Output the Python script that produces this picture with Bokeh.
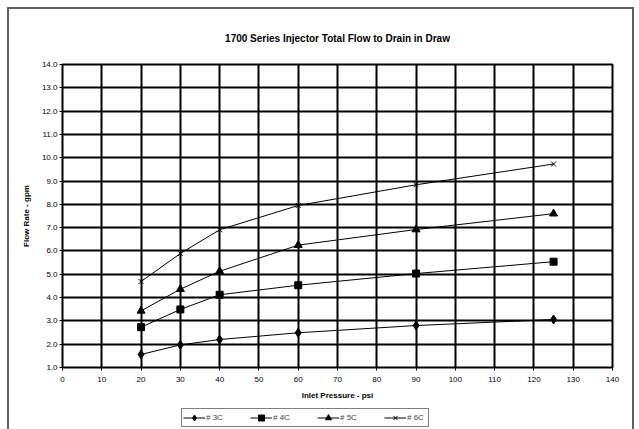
from bokeh.plotting import figure
from bokeh.layouts import column
from bokeh.models import Range1d, Legend, LegendItem, FixedTicker, Title, NumeralTickFormatter
from bokeh.embed import file_html
from bokeh.resources import INLINE

pressure = [20, 30, 40, 60, 90, 125]
s3c = [1.56, 1.97, 2.20, 2.49, 2.80, 3.06]
s4c = [2.73, 3.49, 4.12, 4.53, 5.03, 5.54]
s5c = [3.43, 4.36, 5.13, 6.25, 6.92, 7.60]
s6c = [4.69, 5.89, 6.91, 7.95, 8.84, 9.73]
labels = ["# 3C", "# 4C", "# 5C", "# 6C"]
x_ticks = list(range(0, 141, 10))
y_ticks = list(range(1, 15))

FONT = "Liberation Sans"

p = figure(width=623, height=396, output_backend="svg", toolbar_location=None,
           x_range=Range1d(0, 140), y_range=Range1d(1, 14),
           min_border_left=53, min_border_right=20, min_border_top=55, min_border_bottom=38)
p.background_fill_color = "white"
p.border_fill_color = "white"
p.outline_line_color = "black"
p.outline_line_width = 2

p.add_layout(Title(text="1700 Series Injector Total Flow to Drain in Draw", align="center",
                   text_font=FONT, text_font_size="10px", text_font_style="bold",
                   text_color="black", standoff=42), "above")

for ax in (p.xaxis[0], p.yaxis[0]):
    ax.axis_line_color = "black"
    ax.axis_line_width = 1
    ax.major_tick_line_color = "black"
    ax.major_tick_out = 3
    ax.major_tick_in = 0
    ax.minor_tick_line_color = None
    ax.major_label_text_font = FONT
    ax.major_label_text_font_size = "8px"
    ax.major_label_text_color = "black"
    ax.axis_label_text_font = FONT
    ax.axis_label_text_font_size = "8px"
    ax.axis_label_text_font_style = "bold"
    ax.axis_label_text_color = "black"

p.xaxis.ticker = FixedTicker(ticks=x_ticks)
p.yaxis.ticker = FixedTicker(ticks=y_ticks)
p.yaxis.formatter = NumeralTickFormatter(format="0.0")
p.xaxis.axis_label = "Inlet Pressure - psi"
p.yaxis.axis_label = "Flow Rate - gpm"
p.xaxis.major_label_standoff = 6
p.xaxis.axis_label_standoff = 6
p.yaxis.major_label_standoff = 2
p.yaxis.axis_label_standoff = 8

p.xgrid.ticker = FixedTicker(ticks=x_ticks)
p.ygrid.ticker = FixedTicker(ticks=y_ticks)
for g in (p.xgrid[0], p.ygrid[0]):
    g.grid_line_color = "black"
    g.grid_line_width = 2

series = [(s3c, "diamond", 9, 7), (s4c, "square", 7, 5), (s5c, "triangle", 8, 6), (s6c, "x", 7, 6)]
for vals, marker, size, _ in series:
    p.line(pressure, vals, line_color="black", line_width=1)
    p.scatter(pressure, vals, marker=marker, size=size, fill_color="black",
              line_color="black", line_width=1)

# legend strip (separate canvas so the legend is not clipped); its own ranges
# keep the series out of view so only the legend shows
q = figure(width=623, height=24, output_backend="svg", toolbar_location=None,
           min_border=0, x_axis_location=None, y_axis_location=None,
           x_range=Range1d(0, 1), y_range=Range1d(0, 1))
q.grid.visible = False
q.outline_line_color = None
q.background_fill_color = "white"
q.border_fill_color = "white"
items = []
for lab, (vals, marker, _, lsize) in zip(labels, series):
    ln = q.line(pressure, vals, line_color="black", line_width=1)
    sc = q.scatter(pressure, vals, marker=marker, size=lsize, fill_color="black",
                   line_color="black", line_width=1)
    items.append(LegendItem(label=lab, renderers=[ln, sc]))
legend = Legend(items=items, orientation="horizontal", location=(119, 2),
                border_line_color="black", border_line_width=1,
                label_text_font=FONT, label_text_font_size="8px",
                glyph_width=22, glyph_height=15, label_standoff=1, spacing=24,
                padding=1, margin=0, label_height=10)
q.add_layout(legend, "center")

layout = column(p, q, spacing=0, margin=(9, 0, 0, 9),
                styles={"outline": "2px solid #606060"})

open("out.html", "w").write(file_html(layout, INLINE))
